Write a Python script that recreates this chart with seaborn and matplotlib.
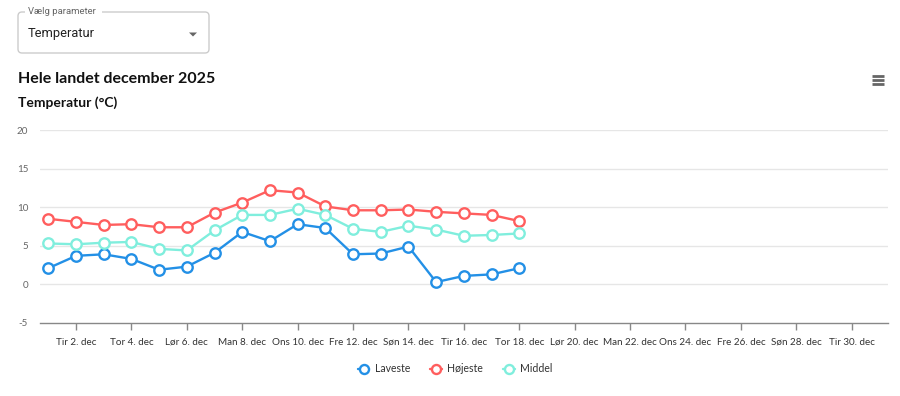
import numpy as np
import pandas as pd
import matplotlib
matplotlib.use("Agg")
import matplotlib.pyplot as plt
import seaborn as sns
from matplotlib.patches import FancyBboxPatch, Polygon
from matplotlib.lines import Line2D

# ---- data ----
days = list(range(1, 19))
laveste = [2.1, 3.7, 3.9, 3.3, 1.9, 2.3, 4.1, 6.8, 5.6, 7.8, 7.3, 3.9, 4.0, 4.9, 0.3, 1.1, 1.3, 2.1]
hojeste = [8.5, 8.1, 7.7, 7.8, 7.4, 7.4, 9.3, 10.6, 12.2, 11.9, 10.1, 9.6, 9.6, 9.7, 9.4, 9.2, 9.0, 8.2]
middel = [5.3, 5.2, 5.4, 5.5, 4.6, 4.4, 7.0, 9.0, 9.0, 9.8, 9.0, 7.2, 6.8, 7.6, 7.1, 6.3, 6.4, 6.6]
series_names = ["Laveste", "Højeste", "Middel"]
tick_days = [2, 4, 6, 8, 10, 12, 14, 16, 18, 20, 22, 24, 26, 28, 30]
tick_labels = ["Tir 2. dec", "Tor 4. dec", "Lør 6. dec", "Man 8. dec", "Ons 10. dec",
               "Fre 12. dec", "Søn 14. dec", "Tir 16. dec", "Tor 18. dec", "Lør 20. dec",
               "Man 22. dec", "Ons 24. dec", "Fre 26. dec", "Søn 28. dec", "Tir 30. dec"]
y_ticks = [-5, 0, 5, 10, 15, 20]
title = "Hele landet december 2025"
subtitle = "Temperatur (°C)"
colors = ["#2390E6", "#FF5E5E", "#80EEDD"]

df = pd.DataFrame({
    "dag": days * 3,
    "temp": laveste + hojeste + middel,
    "serie": [series_names[0]] * len(days) + [series_names[1]] * len(days) + [series_names[2]] * len(days),
})

sns.set_theme(style="white")
plt.rcParams["font.family"] = ["Lato", "DejaVu Sans"]

W, H = 900, 396
fig = plt.figure(figsize=(W / 100, H / 100), dpi=100)

# main axes in pixel geometry
left, right, top, bottom = 40, 888, 130, 323
ax = fig.add_axes([left / W, 1 - bottom / H, (right - left) / W, (bottom - top) / H])

sns.lineplot(data=df, x="dag", y="temp", hue="serie", hue_order=series_names,
             palette=colors, marker="o", markersize=7.5, markerfacecolor="white",
             markeredgewidth=1.7, linewidth=1.7, dashes=False, ax=ax, legend=False,
             zorder=3)
for ln, c in zip(ax.lines, colors):
    ln.set_markeredgecolor(c)

ax.set_xlim(0.70, 31.31)
ax.set_ylim(-5, 20)
ax.set_yticks(y_ticks)
ax.set_yticklabels([str(v) for v in y_ticks])
ax.set_xticks(tick_days)
ax.set_xticklabels(tick_labels)
ax.set_xlabel("")
ax.set_ylabel("")
for s in ["top", "right", "left"]:
    ax.spines[s].set_visible(False)
ax.spines["bottom"].set_color("#888888")
ax.spines["bottom"].set_linewidth(1)
for v in y_ticks[1:]:
    ax.axhline(v, color="#e6e6e6", linewidth=1, zorder=0)
ax.tick_params(axis="x", length=5, width=1, color="#888888", labelsize=7.1, labelcolor="#333333", pad=5.5, bottom=True)
ax.tick_params(axis="y", length=0, labelsize=7.1, labelcolor="#666666", pad=8.5)
ax.patch.set_alpha(0)

# legend
handles = [Line2D([0], [0], color=c, linewidth=1.7, marker="o", markersize=6.5,
                  markerfacecolor="white", markeredgecolor=c, markeredgewidth=1.7)
           for c in colors]
fig.legend(handles, series_names, loc="center", bbox_to_anchor=(455 / W, 1 - 369 / H),
           ncol=3, frameon=False, fontsize=7.6, handlelength=1.1, handletextpad=0.5,
           columnspacing=1.9, labelcolor="#333333")

# overlay for page decorations, pixel coordinates
ov = fig.add_axes([0, 0, 1, 1], zorder=-1)
ov.set_xlim(0, W)
ov.set_ylim(H, 0)
ov.axis("off")

box = FancyBboxPatch((18, 12), 191, 41, boxstyle="round,pad=0,rounding_size=4",
                     facecolor="white", edgecolor="#cccccc", linewidth=1)
ov.add_patch(box)
ov.add_patch(plt.Rectangle((25, 8), 77, 8, facecolor="white", edgecolor="none", zorder=2))
ov.text(28, 12, "Vælg parameter", fontsize=6.8, color="#666666", va="center", ha="left",
        family=["Roboto", "DejaVu Sans"], zorder=3)
ov.text(28, 33, "Temperatur", fontsize=9.3, color="#222222", va="center", ha="left",
        family=["Roboto", "DejaVu Sans"])
ov.add_patch(Polygon([[189, 32.5], [197, 32.5], [193, 36.5]], closed=True,
                     facecolor="#666666", edgecolor="none"))

ov.text(18, 79, title, fontsize=11.5, fontweight="bold", color="#111111", va="center",
        ha="left", family=["Lato", "DejaVu Sans"])
ov.text(18, 103, subtitle, fontsize=10, fontweight="bold", color="#111111", va="center",
        ha="left", family=["Lato", "DejaVu Sans"])
for yy in (75.5, 79.5, 83.5):
    ov.plot([872, 884], [yy, yy], color="#666666", linewidth=2, solid_capstyle="butt")

fig.savefig("out.png", dpi=100, facecolor="white")
